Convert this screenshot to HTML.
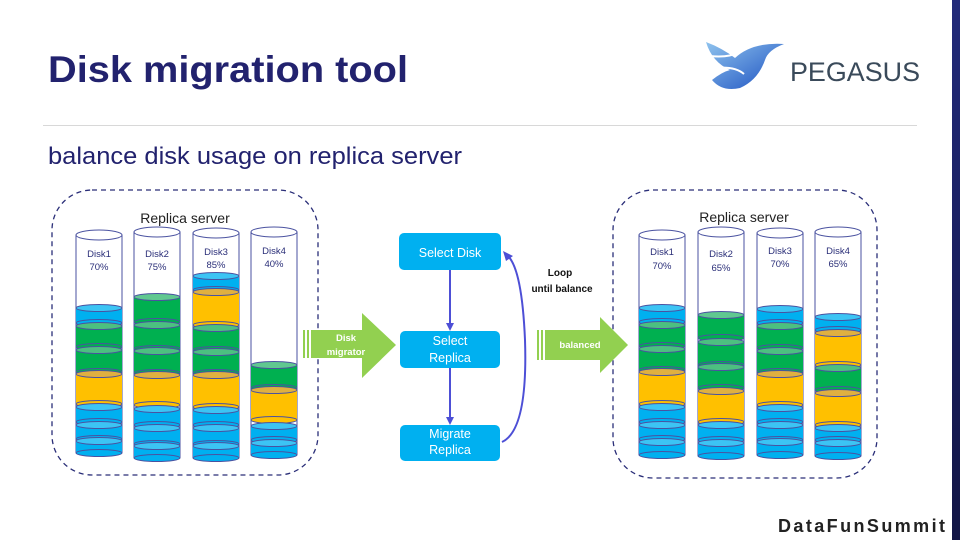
<!DOCTYPE html>
<html><head><meta charset="utf-8"><style>
html,body{margin:0;padding:0;background:#fff;}
svg{display:block;font-family:"Liberation Sans",sans-serif;}
.o{stroke:#4a52a0;stroke-width:1;}
</style></head><body>
<svg width="960" height="540" viewBox="0 0 960 540" xmlns="http://www.w3.org/2000/svg">
<defs>
<linearGradient id="bar" x1="0" y1="0" x2="0" y2="1"><stop offset="0" stop-color="#222a7a"/><stop offset="1" stop-color="#121545"/></linearGradient>
<linearGradient id="logo" x1="0" y1="0" x2="1" y2="1"><stop offset="0" stop-color="#8fc3ee"/><stop offset="1" stop-color="#1a4fc0"/></linearGradient>
</defs>
<rect x="952" y="0" width="8" height="540" fill="url(#bar)"/>
<text x="48" y="82" font-size="37" font-weight="bold" fill="#22226e" textLength="360" lengthAdjust="spacingAndGlyphs">Disk migration tool</text>
<line x1="43" y1="125.5" x2="917" y2="125.5" stroke="#d8d8d8" stroke-width="1"/>
<text x="48" y="164" font-size="24" fill="#22226e" textLength="414" lengthAdjust="spacingAndGlyphs">balance disk usage on replica server</text>
<!-- logo -->
<path d="M706 42 Q722 48 735 58 Q752 42 784 44 Q768 50 765 60 Q758 80 740 88 Q722 92 712 80 Q722 72 730 70 Q712 62 706 42Z" fill="url(#logo)"/>
<path d="M710 56 Q728 58 740 52 M715 68 Q735 66 744 74" stroke="#fff" stroke-width="2" fill="none"/>
<text x="790" y="81" font-size="27" fill="#3a4a5a" textLength="130" lengthAdjust="spacingAndGlyphs">PEGASUS</text>
<text x="778" y="532" font-size="18" font-weight="bold" fill="#222" textLength="167" lengthAdjust="spacing">DataFunSummit</text>

<!-- server boxes -->
<rect x="52" y="190" width="266" height="285" rx="40" fill="none" stroke="#2a2e78" stroke-width="1.3" stroke-dasharray="5,4"/>
<rect x="613" y="190" width="264" height="288" rx="40" fill="none" stroke="#2a2e78" stroke-width="1.3" stroke-dasharray="5,4"/>
<text x="185" y="223" font-size="14" text-anchor="middle" fill="#222">Replica server</text>
<text x="744" y="222" font-size="14" text-anchor="middle" fill="#222">Replica server</text>

<g id="cyl" fill="none" class="o">
<path d="M76 235 V453 M122 235 V453"/><ellipse cx="99" cy="235" rx="23" ry="5" fill="#fff"/>
<path d="M134 232 V458 M180 232 V458"/><ellipse cx="157" cy="232" rx="23" ry="5" fill="#fff"/>
<path d="M193 233 V458 M239 233 V458"/><ellipse cx="216" cy="233" rx="23" ry="5" fill="#fff"/>
<path d="M251 232 V455 M297 232 V455"/><ellipse cx="274" cy="232" rx="23" ry="5" fill="#fff"/>
<path d="M639 235 V455 M685 235 V455"/><ellipse cx="662" cy="235" rx="23" ry="5" fill="#fff"/>
<path d="M698 232 V456 M744 232 V456"/><ellipse cx="721" cy="232" rx="23" ry="5" fill="#fff"/>
<path d="M757 233 V455 M803 233 V455"/><ellipse cx="780" cy="233" rx="23" ry="5" fill="#fff"/>
<path d="M815 232 V456 M861 232 V456"/><ellipse cx="838" cy="232" rx="23" ry="5" fill="#fff"/>
</g>
<g font-size="9.5" fill="#2a2e78" text-anchor="middle">
<text x="99" y="257">Disk1</text><text x="99" y="270">70%</text>
<text x="157" y="257">Disk2</text><text x="157" y="270">75%</text>
<text x="216" y="255">Disk3</text><text x="216" y="268">85%</text>
<text x="274" y="254">Disk4</text><text x="274" y="267">40%</text>
<text x="662" y="255">Disk1</text><text x="662" y="269">70%</text>
<text x="721" y="257">Disk2</text><text x="721" y="271">65%</text>
<text x="780" y="254">Disk3</text><text x="780" y="267">70%</text>
<text x="838" y="254">Disk4</text><text x="838" y="267">65%</text>
</g>

<g class="o" stroke-width="0.8">
<g transform="translate(99,0)">
<rect x="-23" y="308" width="46" height="15" fill="#00b0f0" stroke="none"/><ellipse cy="323" rx="23" ry="3.5" fill="#00b0f0"/><ellipse cy="308" rx="23" ry="3.5" fill="#3cc4f4"/>
<rect x="-23" y="326" width="46" height="21" fill="#00b050" stroke="none"/><ellipse cy="347" rx="23" ry="3.5" fill="#00b050"/><ellipse cy="326" rx="23" ry="3.5" fill="#4cc080"/>
<rect x="-23" y="350" width="46" height="22" fill="#00b050" stroke="none"/><ellipse cy="372" rx="23" ry="3.5" fill="#00b050"/><ellipse cy="350" rx="23" ry="3.5" fill="#4cc080"/>
<rect x="-23" y="374" width="46" height="30" fill="#ffc000" stroke="none"/><ellipse cy="404" rx="23" ry="3.5" fill="#ffc000"/><ellipse cy="374" rx="23" ry="3.5" fill="#e0b040"/>
<rect x="-23" y="407" width="46" height="15" fill="#00b0f0" stroke="none"/><ellipse cy="422" rx="23" ry="3.5" fill="#00b0f0"/><ellipse cy="407" rx="23" ry="3.5" fill="#3cc4f4"/>
<rect x="-23" y="425" width="46" height="14" fill="#00b0f0" stroke="none"/><ellipse cy="439" rx="23" ry="3.5" fill="#00b0f0"/><ellipse cy="425" rx="23" ry="3.5" fill="#3cc4f4"/>
<rect x="-23" y="441" width="46" height="12" fill="#00b0f0" stroke="none"/><ellipse cy="453" rx="23" ry="3.5" fill="#00b0f0"/><ellipse cy="441" rx="23" ry="3.5" fill="#3cc4f4"/>
</g>
<g transform="translate(157,0)">
<rect x="-23" y="297" width="46" height="25" fill="#00b050" stroke="none"/><ellipse cy="322" rx="23" ry="3.5" fill="#00b050"/><ellipse cy="297" rx="23" ry="3.5" fill="#60c890"/>
<rect x="-23" y="325" width="46" height="24" fill="#00b050" stroke="none"/><ellipse cy="349" rx="23" ry="3.5" fill="#00b050"/><ellipse cy="325" rx="23" ry="3.5" fill="#4cc080"/>
<rect x="-23" y="351" width="46" height="22" fill="#00b050" stroke="none"/><ellipse cy="373" rx="23" ry="3.5" fill="#00b050"/><ellipse cy="351" rx="23" ry="3.5" fill="#4cc080"/>
<rect x="-23" y="375" width="46" height="30" fill="#ffc000" stroke="none"/><ellipse cy="405" rx="23" ry="3.5" fill="#ffc000"/><ellipse cy="375" rx="23" ry="3.5" fill="#e0b040"/>
<rect x="-23" y="409" width="46" height="16" fill="#00b0f0" stroke="none"/><ellipse cy="425" rx="23" ry="3.5" fill="#00b0f0"/><ellipse cy="409" rx="23" ry="3.5" fill="#3cc4f4"/>
<rect x="-23" y="428" width="46" height="16" fill="#00b0f0" stroke="none"/><ellipse cy="444" rx="23" ry="3.5" fill="#00b0f0"/><ellipse cy="428" rx="23" ry="3.5" fill="#3cc4f4"/>
<rect x="-23" y="446" width="46" height="12" fill="#00b0f0" stroke="none"/><ellipse cy="458" rx="23" ry="3.5" fill="#00b0f0"/><ellipse cy="446" rx="23" ry="3.5" fill="#3cc4f4"/>
</g>
<g transform="translate(216,0)">
<rect x="-23" y="276" width="46" height="14" fill="#00b0f0" stroke="none"/><ellipse cy="290" rx="23" ry="3.5" fill="#00b0f0"/><ellipse cy="276" rx="23" ry="3.5" fill="#3cc4f4"/>
<rect x="-23" y="292" width="46" height="33" fill="#ffc000" stroke="none"/><ellipse cy="325" rx="23" ry="3.5" fill="#ffc000"/><ellipse cy="292" rx="23" ry="3.5" fill="#e0b040"/>
<rect x="-23" y="328" width="46" height="22" fill="#00b050" stroke="none"/><ellipse cy="350" rx="23" ry="3.5" fill="#00b050"/><ellipse cy="328" rx="23" ry="3.5" fill="#4cc080"/>
<rect x="-23" y="352" width="46" height="21" fill="#00b050" stroke="none"/><ellipse cy="373" rx="23" ry="3.5" fill="#00b050"/><ellipse cy="352" rx="23" ry="3.5" fill="#4cc080"/>
<rect x="-23" y="375" width="46" height="32" fill="#ffc000" stroke="none"/><ellipse cy="407" rx="23" ry="3.5" fill="#ffc000"/><ellipse cy="375" rx="23" ry="3.5" fill="#e0b040"/>
<rect x="-23" y="410" width="46" height="15" fill="#00b0f0" stroke="none"/><ellipse cy="425" rx="23" ry="3.5" fill="#00b0f0"/><ellipse cy="410" rx="23" ry="3.5" fill="#3cc4f4"/>
<rect x="-23" y="428" width="46" height="16" fill="#00b0f0" stroke="none"/><ellipse cy="444" rx="23" ry="3.5" fill="#00b0f0"/><ellipse cy="428" rx="23" ry="3.5" fill="#3cc4f4"/>
<rect x="-23" y="446" width="46" height="12" fill="#00b0f0" stroke="none"/><ellipse cy="458" rx="23" ry="3.5" fill="#00b0f0"/><ellipse cy="446" rx="23" ry="3.5" fill="#3cc4f4"/>
</g>
<g transform="translate(274,0)">
<rect x="-23" y="365" width="46" height="23" fill="#00b050" stroke="none"/><ellipse cy="388" rx="23" ry="3.5" fill="#00b050"/><ellipse cy="365" rx="23" ry="3.5" fill="#60c890"/>
<rect x="-23" y="390" width="46" height="30" fill="#ffc000" stroke="none"/><ellipse cy="420" rx="23" ry="3.5" fill="#ffc000"/><ellipse cy="390" rx="23" ry="3.5" fill="#e0b040"/>
<rect x="-23" y="426" width="46" height="14" fill="#00b0f0" stroke="none"/><ellipse cy="440" rx="23" ry="3.5" fill="#00b0f0"/><ellipse cy="426" rx="23" ry="3.5" fill="#3cc4f4"/>
<rect x="-23" y="443" width="46" height="12" fill="#00b0f0" stroke="none"/><ellipse cy="455" rx="23" ry="3.5" fill="#00b0f0"/><ellipse cy="443" rx="23" ry="3.5" fill="#3cc4f4"/>
</g>
<g transform="translate(662,0)">
<rect x="-23" y="308" width="46" height="14" fill="#00b0f0" stroke="none"/><ellipse cy="322" rx="23" ry="3.5" fill="#00b0f0"/><ellipse cy="308" rx="23" ry="3.5" fill="#3cc4f4"/>
<rect x="-23" y="325" width="46" height="21" fill="#00b050" stroke="none"/><ellipse cy="346" rx="23" ry="3.5" fill="#00b050"/><ellipse cy="325" rx="23" ry="3.5" fill="#4cc080"/>
<rect x="-23" y="349" width="46" height="21" fill="#00b050" stroke="none"/><ellipse cy="370" rx="23" ry="3.5" fill="#00b050"/><ellipse cy="349" rx="23" ry="3.5" fill="#4cc080"/>
<rect x="-23" y="372" width="46" height="32" fill="#ffc000" stroke="none"/><ellipse cy="404" rx="23" ry="3.5" fill="#ffc000"/><ellipse cy="372" rx="23" ry="3.5" fill="#e0b040"/>
<rect x="-23" y="407" width="46" height="15" fill="#00b0f0" stroke="none"/><ellipse cy="422" rx="23" ry="3.5" fill="#00b0f0"/><ellipse cy="407" rx="23" ry="3.5" fill="#3cc4f4"/>
<rect x="-23" y="425" width="46" height="14" fill="#00b0f0" stroke="none"/><ellipse cy="439" rx="23" ry="3.5" fill="#00b0f0"/><ellipse cy="425" rx="23" ry="3.5" fill="#3cc4f4"/>
<rect x="-23" y="442" width="46" height="13" fill="#00b0f0" stroke="none"/><ellipse cy="455" rx="23" ry="3.5" fill="#00b0f0"/><ellipse cy="442" rx="23" ry="3.5" fill="#3cc4f4"/>
</g>
<g transform="translate(721,0)">
<rect x="-23" y="315" width="46" height="23" fill="#00b050" stroke="none"/><ellipse cy="338" rx="23" ry="3.5" fill="#00b050"/><ellipse cy="315" rx="23" ry="3.5" fill="#60c890"/>
<rect x="-23" y="342" width="46" height="23" fill="#00b050" stroke="none"/><ellipse cy="365" rx="23" ry="3.5" fill="#00b050"/><ellipse cy="342" rx="23" ry="3.5" fill="#4cc080"/>
<rect x="-23" y="367" width="46" height="21" fill="#00b050" stroke="none"/><ellipse cy="388" rx="23" ry="3.5" fill="#00b050"/><ellipse cy="367" rx="23" ry="3.5" fill="#4cc080"/>
<rect x="-23" y="391" width="46" height="31" fill="#ffc000" stroke="none"/><ellipse cy="422" rx="23" ry="3.5" fill="#ffc000"/><ellipse cy="391" rx="23" ry="3.5" fill="#e0b040"/>
<rect x="-23" y="425" width="46" height="15" fill="#00b0f0" stroke="none"/><ellipse cy="440" rx="23" ry="3.5" fill="#00b0f0"/><ellipse cy="425" rx="23" ry="3.5" fill="#3cc4f4"/>
<rect x="-23" y="443" width="46" height="13" fill="#00b0f0" stroke="none"/><ellipse cy="456" rx="23" ry="3.5" fill="#00b0f0"/><ellipse cy="443" rx="23" ry="3.5" fill="#3cc4f4"/>
</g>
<g transform="translate(780,0)">
<rect x="-23" y="309" width="46" height="14" fill="#00b0f0" stroke="none"/><ellipse cy="323" rx="23" ry="3.5" fill="#00b0f0"/><ellipse cy="309" rx="23" ry="3.5" fill="#3cc4f4"/>
<rect x="-23" y="326" width="46" height="22" fill="#00b050" stroke="none"/><ellipse cy="348" rx="23" ry="3.5" fill="#00b050"/><ellipse cy="326" rx="23" ry="3.5" fill="#4cc080"/>
<rect x="-23" y="351" width="46" height="21" fill="#00b050" stroke="none"/><ellipse cy="372" rx="23" ry="3.5" fill="#00b050"/><ellipse cy="351" rx="23" ry="3.5" fill="#4cc080"/>
<rect x="-23" y="374" width="46" height="31" fill="#ffc000" stroke="none"/><ellipse cy="405" rx="23" ry="3.5" fill="#ffc000"/><ellipse cy="374" rx="23" ry="3.5" fill="#e0b040"/>
<rect x="-23" y="408" width="46" height="14" fill="#00b0f0" stroke="none"/><ellipse cy="422" rx="23" ry="3.5" fill="#00b0f0"/><ellipse cy="408" rx="23" ry="3.5" fill="#3cc4f4"/>
<rect x="-23" y="425" width="46" height="15" fill="#00b0f0" stroke="none"/><ellipse cy="440" rx="23" ry="3.5" fill="#00b0f0"/><ellipse cy="425" rx="23" ry="3.5" fill="#3cc4f4"/>
<rect x="-23" y="442" width="46" height="13" fill="#00b0f0" stroke="none"/><ellipse cy="455" rx="23" ry="3.5" fill="#00b0f0"/><ellipse cy="442" rx="23" ry="3.5" fill="#3cc4f4"/>
</g>
<g transform="translate(838,0)">
<rect x="-23" y="317" width="46" height="13" fill="#00b0f0" stroke="none"/><ellipse cy="330" rx="23" ry="3.5" fill="#00b0f0"/><ellipse cy="317" rx="23" ry="3.5" fill="#3cc4f4"/>
<rect x="-23" y="333" width="46" height="32" fill="#ffc000" stroke="none"/><ellipse cy="365" rx="23" ry="3.5" fill="#ffc000"/><ellipse cy="333" rx="23" ry="3.5" fill="#e0b040"/>
<rect x="-23" y="368" width="46" height="22" fill="#00b050" stroke="none"/><ellipse cy="390" rx="23" ry="3.5" fill="#00b050"/><ellipse cy="368" rx="23" ry="3.5" fill="#4cc080"/>
<rect x="-23" y="393" width="46" height="32" fill="#ffc000" stroke="none"/><ellipse cy="425" rx="23" ry="3.5" fill="#ffc000"/><ellipse cy="393" rx="23" ry="3.5" fill="#e0b040"/>
<rect x="-23" y="428" width="46" height="12" fill="#00b0f0" stroke="none"/><ellipse cy="440" rx="23" ry="3.5" fill="#00b0f0"/><ellipse cy="428" rx="23" ry="3.5" fill="#3cc4f4"/>
<rect x="-23" y="443" width="46" height="13" fill="#00b0f0" stroke="none"/><ellipse cy="456" rx="23" ry="3.5" fill="#00b0f0"/><ellipse cy="443" rx="23" ry="3.5" fill="#3cc4f4"/>
</g>
</g>

<g fill="#92d050">
<rect x="303" y="330" width="2" height="28"/><rect x="307" y="330" width="2" height="28"/>
<path d="M311 330 H362 V313 L396 345 L362 378 V358 H311 Z"/>
<rect x="537" y="330" width="2" height="30"/><rect x="541" y="330" width="2" height="30"/>
<path d="M545 330 H600 V317 L628 345 L600 373 V360 H545 Z"/>
</g>
<g fill="#fff" font-size="9.5" font-weight="bold" text-anchor="middle">
<text x="346" y="341">Disk</text><text x="346" y="355">migrator</text>
<text x="580" y="348">balanced</text>
</g>

<g fill="#00b0f0">
<rect x="399" y="233" width="102" height="37" rx="5"/>
<rect x="400" y="331" width="100" height="37" rx="5"/>
<rect x="400" y="425" width="100" height="36" rx="5"/>
</g>
<g fill="#fff" font-size="12.5" text-anchor="middle">
<text x="450" y="257">Select Disk</text>
<text x="450" y="345">Select</text><text x="450" y="362">Replica</text>
<text x="450" y="438">Migrate</text><text x="450" y="454">Replica</text>
</g>
<g stroke="#4d4fd6" stroke-width="2" fill="none">
<line x1="450" y1="270" x2="450" y2="324"/>
<line x1="450" y1="368" x2="450" y2="418"/>
<path d="M502 442 Q528 430 525 340 Q522 270 508 256"/>
</g>
<g fill="#4d4fd6">
<path d="M446 323 L454 323 L450 331Z"/>
<path d="M446 417 L454 417 L450 425Z"/>
<path d="M503 251 L513 256 L506 261Z"/>
</g>
<g font-size="10" font-weight="bold" fill="#111" text-anchor="middle">
<text x="560" y="276">Loop</text><text x="562" y="292">until balance</text>
</g>
</svg>
</body></html>
